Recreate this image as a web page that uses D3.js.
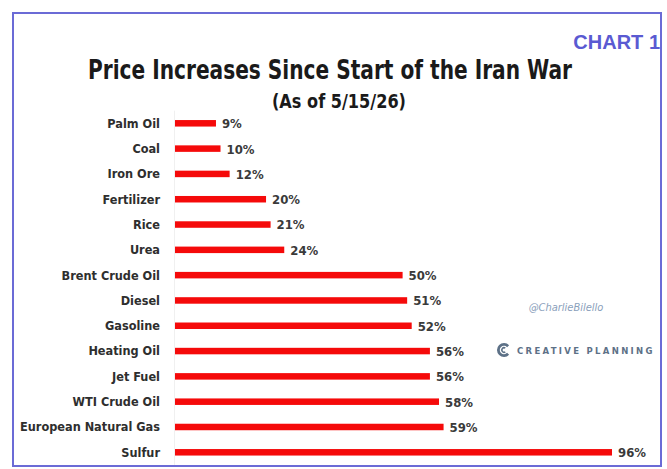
<!DOCTYPE html>
<html>
<head>
<meta charset="utf-8">
<script src="https://cdn.jsdelivr.net/npm/d3@7"></script>
<style>
  html, body { margin: 0; padding: 0; background: #ffffff; }
  svg { display: block; }
</style>
</head>
<body>
<div id="chart"></div>
<script>
// Commodity price changes since the start of the war (%)
const categories = [
  "Palm Oil", "Coal", "Iron Ore", "Fertilizer", "Rice", "Urea",
  "Brent Crude Oil", "Diesel", "Gasoline", "Heating Oil", "Jet Fuel",
  "WTI Crude Oil", "European Natural Gas", "Sulfur"
];
const values = [9, 10, 12, 20, 21, 24, 50, 51, 52, 56, 56, 58, 59, 96];

const titleText = "Price Increases Since Start of the Iran War";
const subtitleText = "(As of 5/15/26)";
const badgeText = "CHART 1";
const handleText = "@CharlieBilello";
const brandText = "CREATIVE PLANNING";

const W = 667, H = 469;
const svg = d3.select("#chart").append("svg")
  .attr("width", W).attr("height", H);

svg.append("rect").attr("width", W).attr("height", H).attr("fill", "#ffffff");

// frame
svg.append("rect")
  .attr("x", 13).attr("y", 13).attr("width", 648).attr("height", 453)
  .attr("fill", "none").attr("stroke", "#6b6bd6").attr("stroke-width", 2);

const narrow = "'Liberation Sans Narrow', 'DejaVu Sans Condensed', Arial, sans-serif";

svg.append("text")
  .attr("x", 660).attr("y", 49).attr("text-anchor", "end")
  .attr("font-family", "Arial, 'Liberation Sans', sans-serif")
  .attr("font-weight", "bold").attr("font-size", 20)
  .attr("fill", "#5a5ad2").text(badgeText);

svg.append("text")
  .attr("x", 330).attr("y", 79).attr("text-anchor", "middle")
  .attr("font-family", narrow).attr("font-weight", "bold").attr("font-size", 26)
  .attr("textLength", 484).attr("lengthAdjust", "spacingAndGlyphs")
  .attr("fill", "#1a1a1a").text(titleText);

svg.append("text")
  .attr("x", 339).attr("y", 108).attr("text-anchor", "middle")
  .attr("font-family", narrow).attr("font-weight", "bold").attr("font-size", 19)
  .attr("textLength", 134).attr("lengthAdjust", "spacingAndGlyphs")
  .attr("fill", "#1a1a1a").text(subtitleText);

const x = d3.scaleLinear().domain([0, 96]).range([175, 612]);
const y = d3.scaleBand().domain(categories).range([110.65, 464.95]);
const barH = 6.5;

// faint baseline
svg.append("line")
  .attr("x1", x(0) - 0.5).attr("x2", x(0) - 0.5)
  .attr("y1", y.range()[0]).attr("y2", y.range()[1])
  .attr("stroke", "#f0f0f0").attr("stroke-width", 1);

const rows = svg.append("g").selectAll("g")
  .data(categories.map((c, i) => ({ c, v: values[i] })))
  .join("g")
  .attr("transform", d => `translate(0,${y(d.c) + y.bandwidth() / 2})`);

rows.append("rect")
  .attr("x", x(0)).attr("y", -barH / 2)
  .attr("width", d => x(d.v) - x(0)).attr("height", barH)
  .attr("fill", "#f50a0a");

rows.append("text")
  .attr("x", 160).attr("dy", "0.35em").attr("text-anchor", "end")
  .attr("font-family", narrow).attr("font-weight", "bold").attr("font-size", 12.6)
  .attr("fill", "#2e2e2e").text(d => d.c);

rows.append("text")
  .attr("x", d => x(d.v) + 6).attr("dy", "0.38em")
  .attr("font-family", narrow).attr("font-weight", "bold").attr("font-size", 13)
  .attr("fill", "#3a3a3a").text(d => d.v + "%");

// watermark
svg.append("text")
  .attr("x", 566).attr("y", 311).attr("text-anchor", "middle")
  .attr("font-family", narrow).attr("font-style", "italic").attr("font-size", 11)
  .attr("fill", "#8aa0bb").text(handleText);

const logo = svg.append("g").attr("transform", "translate(504,350)");
const gap = 0.75;
logo.append("path")
  .attr("d", d3.arc()({ innerRadius: 4.2, outerRadius: 7,
    startAngle: Math.PI / 2 + gap, endAngle: Math.PI / 2 + 2 * Math.PI - gap }))
  .attr("fill", "#5d7187");
logo.append("path")
  .attr("d", d3.arc()({ innerRadius: 1.4, outerRadius: 3,
    startAngle: Math.PI / 2 + gap + 0.2, endAngle: Math.PI / 2 + 2 * Math.PI - gap - 0.2 }))
  .attr("fill", "#5d7187");

svg.append("text")
  .attr("x", 517).attr("y", 353.5)
  .attr("font-family", "'DejaVu Sans', Arial, sans-serif").attr("font-weight", "bold").attr("font-size", 8.5)
  .attr("letter-spacing", 1.6)
  .attr("textLength", 137).attr("lengthAdjust", "spacing")
  .attr("fill", "#5d7187").text(brandText);
</script>
</body>
</html>
